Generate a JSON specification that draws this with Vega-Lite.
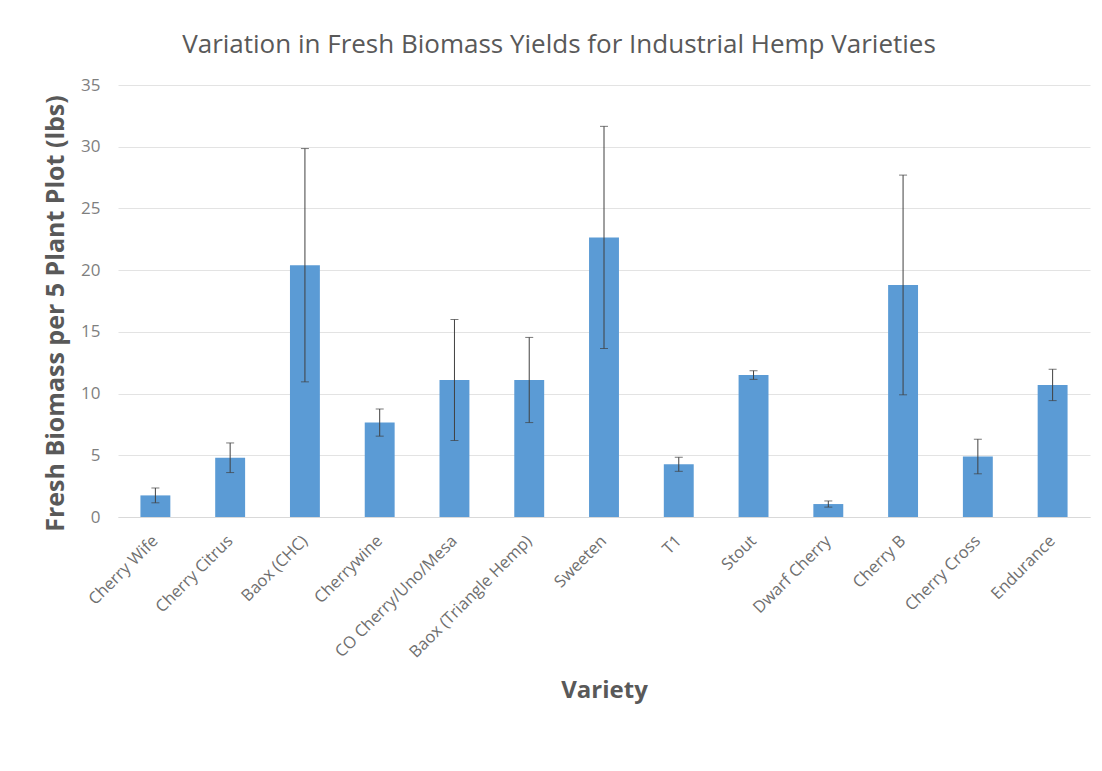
{
  "$schema": "https://vega.github.io/schema/vega-lite/v6.json",
  "autosize": {"type": "none"},
  "width": 972,
  "height": 432,
  "padding": {"left": 118, "top": 85, "right": 12, "bottom": 254},
  "background": "white",
  "title": {
    "text": "Variation in Fresh Biomass Yields for Industrial Hemp Varieties",
    "font": "Open Sans",
    "fontSize": 26,
    "fontWeight": "normal",
    "color": "#595959",
    "anchor": "middle",
    "offset": 18,
    "frame": "group",
    "dx": -45
  },
  "config": {
    "view": {"stroke": null},
    "font": "Open Sans"
  },
  "data": {
    "values": [
      {"Variety": "Cherry Wife", "Biomass": 1.75, "Err": 0.6},
      {"Variety": "Cherry Citrus", "Biomass": 4.8, "Err": 1.2},
      {"Variety": "Baox (CHC)", "Biomass": 20.4, "Err": 9.45},
      {"Variety": "Cherrywine", "Biomass": 7.65, "Err": 1.1},
      {"Variety": "CO Cherry/Uno/Mesa", "Biomass": 11.1, "Err": 4.9},
      {"Variety": "Baox (Triangle Hemp)", "Biomass": 11.1, "Err": 3.45},
      {"Variety": "Sweeten", "Biomass": 22.65, "Err": 9.0},
      {"Variety": "T1", "Biomass": 4.27, "Err": 0.57},
      {"Variety": "Stout", "Biomass": 11.5, "Err": 0.35},
      {"Variety": "Dwarf Cherry", "Biomass": 1.05, "Err": 0.25},
      {"Variety": "Cherry B", "Biomass": 18.8, "Err": 8.9},
      {"Variety": "Cherry Cross", "Biomass": 4.9, "Err": 1.4},
      {"Variety": "Endurance", "Biomass": 10.7, "Err": 1.27}
    ]
  },
  "encoding": {
    "x": {
      "field": "Variety",
      "type": "nominal",
      "sort": null,
      "scale": {"paddingInner": 0.6, "paddingOuter": 0.3},
      "axis": {
        "title": "Variety",
        "titleFont": "Open Sans",
        "titleFontSize": 24,
        "titleFontWeight": "bold",
        "titleColor": "#595959",
        "titleY": 173,
        "titleBaseline": "middle",
        "labelAngle": -45,
        "labelAlign": "right",
        "labelBaseline": "middle",
        "labelFont": "Open Sans",
        "labelFontSize": 16.5,
        "labelColor": "#6f6f6f",
        "labelPadding": 21,
        "ticks": false,
        "domainColor": "#d9d9d9",
        "domainWidth": 1,
        "grid": false
      }
    }
  },
  "layer": [
    {
      "mark": {"type": "bar", "color": "#5b9bd5"},
      "encoding": {
        "y": {
          "field": "Biomass",
          "type": "quantitative",
          "title": "Fresh Biomass per 5 Plant Plot (lbs)",
          "scale": {"domain": [0, 35], "nice": false},
          "axis": {
            "titleFont": "Open Sans",
            "titleFontSize": 25,
            "titleFontWeight": "bold",
            "titleColor": "#595959",
            "titlePadding": 12,
            "titleY": 228,
            "values": [0, 5, 10, 15, 20, 25, 30, 35],
            "labelFont": "Open Sans",
            "labelFontSize": 17,
            "labelColor": "#7f7f7f",
            "labelPadding": 18,
            "ticks": false,
            "domain": false,
            "gridColor": "#e3e3e3",
            "gridWidth": 1
          }
        }
      }
    },
    {
      "mark": {
        "type": "errorbar",
        "ticks": {"size": 8, "color": "#404040", "strokeWidth": 1},
        "rule": {"color": "#404040", "strokeWidth": 1}
      },
      "encoding": {
        "y": {"field": "Biomass", "type": "quantitative", "title": "Fresh Biomass per 5 Plant Plot (lbs)"},
        "yError": {"field": "Err"}
      }
    }
  ]
}
